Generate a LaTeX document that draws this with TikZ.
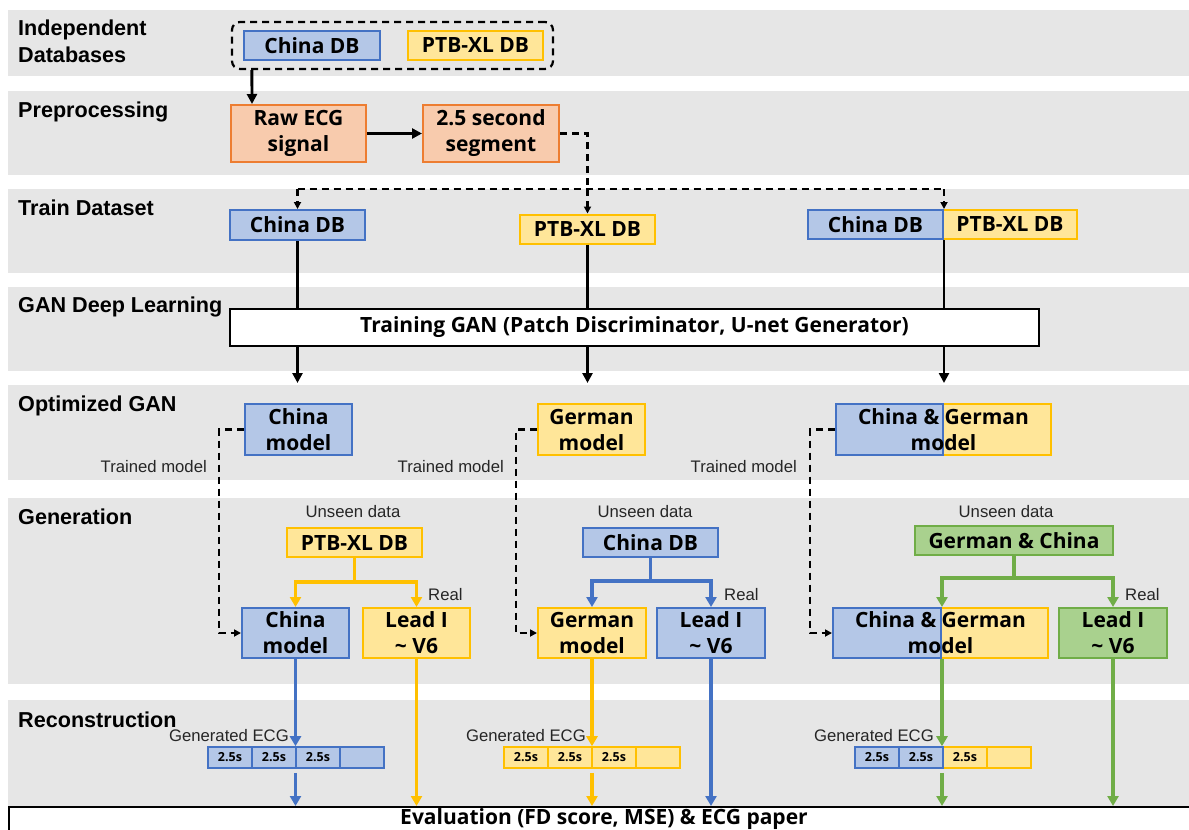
\documentclass[tikz,border=0pt]{standalone}
\usepackage{fontspec}
\setmainfont{Liberation Sans}
\newfontfamily\boxfam{Open Sans}
\usetikzlibrary{arrows.meta}
\definecolor{bandgray}{HTML}{E6E6E6}
\definecolor{bluefill}{HTML}{B4C7E7}
\definecolor{blueline}{HTML}{4472C4}
\definecolor{yelfill}{HTML}{FFE699}
\definecolor{yelline}{HTML}{FFC000}
\definecolor{orfill}{HTML}{F8CBAD}
\definecolor{orline}{HTML}{ED7D31}
\definecolor{grfill}{HTML}{A9D18E}
\definecolor{grline}{HTML}{70AD47}
\definecolor{notegray}{HTML}{262626}

\begin{document}
\begin{tikzpicture}[x=1pt,y=-1pt,
  band/.style={fill=bandgray, draw=none},
  lbl/.style={anchor=base west, inner sep=0, align=left,
    font=\fontsize{21.6}{27}\selectfont\bfseries},
  note/.style={inner sep=0, text=notegray, font=\fontsize{16.7}{20}\selectfont},
  bx/.style={draw, line width=2pt, inner sep=0, align=center, text=black,
    font=\boxfam\fontsize{21}{26}\selectfont\bfseries},
  bluebox/.style={bx, fill=bluefill, draw=blueline},
  yelbox/.style={bx, fill=yelfill, draw=yelline},
  orbox/.style={bx, fill=orfill, draw=orline},
  grbox/.style={bx, fill=grfill, draw=grline},
  cell/.style={draw, line width=1.6pt, inner sep=0, minimum width=44pt, minimum height=21pt,
    font=\boxfam\fontsize{12.5}{14}\selectfont\bfseries},
  blk/.style={line width=2.9pt, draw=black},
  blkarrow/.style={blk, -{Triangle[length=10pt,width=10pt]}},
  dsh/.style={line width=2.2pt, dash pattern=on 7pt off 5pt},
  dsharrow/.style={dsh, -{Triangle[length=7pt,width=7pt]}},
  cline/.style={line width=3.2pt},
  carrow/.style={cline, -{Triangle[length=10pt,width=11pt]}},
]
\useasboundingbox (0,0) rectangle (1189,830);

% stage bands
\fill[bandgray] (8,10) rectangle (1189,76);
\fill[bandgray] (8,91) rectangle (1189,175);
\fill[bandgray] (8,189) rectangle (1189,273);
\fill[bandgray] (8,287) rectangle (1189,371);
\fill[bandgray] (8,385) rectangle (1189,480);
\fill[bandgray] (8,498) rectangle (1189,684);
\fill[bandgray] (8,700) rectangle (1189,806);

% stage labels
\node[lbl, anchor=north west] (l1) at (18,20) {Independent\\Databases};
\node[lbl] (l2) at (18,117) {Preprocessing};
\node[lbl] (l3) at (18,215) {Train Dataset};
\node[lbl] (l4) at (18,312) {GAN Deep Learning};
\node[lbl] (l5) at (18,411) {Optimized GAN};
\node[lbl] (l6) at (18,524) {Generation};
\node[lbl] (l7) at (18,727) {Reconstruction};

% independent databases
\node[draw, dsh, rounded corners=8pt, minimum width=321pt, minimum height=47pt] (db) at (392.5,45.5) {};
\node[bluebox, minimum width=136pt, minimum height=29pt] (cdb1) at (312,45.5) {China DB};
\node[yelbox, minimum width=135pt, minimum height=29pt] (pdb1) at (475.5,45.5) {PTB-XL DB};

% preprocessing
\node[orbox, minimum width=135pt, minimum height=57pt] (raw) at (298.5,133.5) {Raw ECG\\signal};
\node[orbox, minimum width=136pt, minimum height=57pt] (seg) at (491,133.5) {2.5 second\\segment};

% train datasets
\node[bluebox, minimum width=135pt, minimum height=30pt] (tcdb) at (297.5,225) {China DB};
\node[yelbox, minimum width=135pt, minimum height=29pt] (tpdb) at (587.5,229) {PTB-XL DB};
\node[yelbox, minimum width=134pt, minimum height=29pt] (tcp) at (1010,224.5) {PTB-XL DB};
\node[bluebox, minimum width=135pt, minimum height=29pt] (tcc) at (875.5,224.5) {China DB};

% GAN training
\node[bx, draw=black, fill=white, minimum width=809pt, minimum height=37pt] (gan) at (634.5,327.5)
  {Training GAN (Patch Discriminator, U-net Generator)};

% optimized models
\node[bluebox, minimum width=107pt, minimum height=51pt] (ocm) at (298.5,429.5) {China\\model};
\node[yelbox, minimum width=107pt, minimum height=51pt] (ogm) at (591.5,429.5) {German\\model};
\node[yelbox, minimum width=108pt, minimum height=51pt] (ocy) at (997,429.5) {};
\node[bluebox, minimum width=107pt, minimum height=51pt] (ocb) at (889.5,429.5) {};
\node[bx, draw=none, minimum width=215pt, minimum height=51pt] (oct) at (943.5,429.5) {China \& German\\model};

\node[note, anchor=base east] (tm1) at (207,472) {Trained model};
\node[note, anchor=base east] (tm2) at (504,472) {Trained model};
\node[note, anchor=base east] (tm3) at (797,472) {Trained model};

% generation inputs
\node[note, anchor=base] (ud1) at (353,517) {Unseen data};
\node[note, anchor=base] (ud2) at (645,517) {Unseen data};
\node[note, anchor=base] (ud3) at (1006,517) {Unseen data};
\node[yelbox, minimum width=135pt, minimum height=29pt] (upd) at (354.5,542.5) {PTB-XL DB};
\node[bluebox, minimum width=135pt, minimum height=29pt] (ucd) at (650.5,542.5) {China DB};
\node[grbox, minimum width=198pt, minimum height=29pt] (ugc) at (1014,540.5) {German \& China};

% generation models and real leads
\node[bluebox, minimum width=107pt, minimum height=50pt] (gcm) at (295.5,633) {China\\model};
\node[yelbox, minimum width=107pt, minimum height=50pt] (gl1) at (416.5,633) {Lead I\\\textasciitilde{} V6};
\node[yelbox, minimum width=108pt, minimum height=50pt] (ggm) at (592,633) {German\\model};
\node[bluebox, minimum width=108pt, minimum height=50pt] (gl2) at (711,633) {Lead I\\\textasciitilde{} V6};
\node[yelbox, minimum width=107pt, minimum height=50pt] (gcy) at (994.5,633) {};
\node[bluebox, minimum width=108pt, minimum height=50pt] (gcb) at (887,633) {};
\node[bx, draw=none, minimum width=215pt, minimum height=50pt] (gct) at (940.5,633) {China \& German\\model};
\node[grbox, minimum width=108pt, minimum height=50pt] (gl3) at (1113,633) {Lead I\\\textasciitilde{} V6};

\node[note, anchor=base west] (r1) at (428,600) {Real};
\node[note, anchor=base west] (r2) at (724,600) {Real};
\node[note, anchor=base west] (r3) at (1125,600) {Real};

% reconstructed segments
\foreach \i/\t in {0/2.5s,1/2.5s,2/2.5s,3/{}}
  \node[cell, fill=bluefill, draw=blueline] (sa\i) at (230+44*\i,757.5) {\t};
\foreach \i/\t in {0/2.5s,1/2.5s,2/2.5s,3/{}}
  \node[cell, fill=yelfill, draw=yelline] (sb\i) at (526+44*\i,757.5) {\t};
\foreach \i/\t in {2/2.5s,3/{}}
  \node[cell, fill=yelfill, draw=yelline] (sc\i) at (877+44*\i,757.5) {\t};
\foreach \i/\t in {0/2.5s,1/2.5s}
  \node[cell, fill=bluefill, draw=blueline] (sc\i) at (877+44*\i,757.5) {\t};

\node[note, anchor=base east] (ge1) at (289,741) {Generated ECG};
\node[note, anchor=base east] (ge2) at (586,741) {Generated ECG};
\node[note, anchor=base east] (ge3) at (934,741) {Generated ECG};

% evaluation (the box runs on past the lower and right edges)
\node[bx, draw=black, fill=white, line width=2.2pt, anchor=north west, minimum width=1192pt, minimum height=40pt] (eval) at (8,806) {};
\node[bx, draw=none, anchor=base] (evaltxt) at (604,824.5) {Evaluation (FD score, MSE) \& ECG paper};

% --- connectors ---
\draw[blkarrow] ([xshift=21pt]db.south west) -- ([xshift=22pt]raw.north west);
\draw[blkarrow] (raw.east) -- (seg.west);

\coordinate (jmid) at (587.5,189);
\draw[dsh] (seg.east) -| (jmid);
\draw[dsh] (tcdb.north |- jmid) -- (tcc.north east |- jmid);
\draw[dsharrow] (tcdb.north |- jmid) -- (tcdb.north);
\draw[dsharrow] (jmid) -- (tpdb.north);
\draw[dsharrow] (tcc.north east |- jmid) -- (tcc.north east);

\draw[blk] (tcdb.south) -- (tcdb.south |- gan.north);
\draw[blk] (tpdb.south) -- (tpdb.south |- gan.north);
\draw[blk] (tcc.south east) -- (tcc.south east |- gan.north);
\draw[blkarrow] (tcdb.south |- gan.south) -- ([yshift=20pt]tcdb.south |- ocm.north);
\draw[blkarrow] (tpdb.south |- gan.south) -- ([yshift=20pt]tpdb.south |- ogm.north);
\draw[blkarrow] (tcc.south east |- gan.south) -- ([yshift=20pt]tcc.south east |- ocb.north);

\draw[dsharrow] (ocm.west) -- ++(-25,0) |- (gcm.west);
\draw[dsharrow] (ogm.west) -- ++(-21,0) |- (ggm.west);
\draw[dsharrow] (ocb.west) -- ++(-25,0) |- (gcb.west);

\coordinate (bra) at (354.5,582);
\coordinate (brb) at (650.5,581);
\coordinate (brc) at (1014,578);
\draw[cline, yelline] (upd.south) -- (bra);
\draw[carrow, yelline] (bra) -| (gcm.north);
\draw[carrow, yelline] (bra) -| (gl1.north);
\draw[cline, blueline] (ucd.south) -- (brb);
\draw[carrow, blueline] (brb) -| (ggm.north);
\draw[carrow, blueline] (brb) -| (gl2.north);
\draw[cline, grline] (ugc.south) -- (brc);
\draw[carrow, grline] (brc) -| (gcb.north east);
\draw[carrow, grline] (brc) -| (gl3.north);

\draw[carrow, blueline] (gcm.south) -- (gcm.south |- sa1.north);
\draw[carrow, blueline] ([yshift=-4pt]gcm.south |- sa1.south) -- (gcm.south |- eval.north);
\draw[carrow, yelline] (gl1.south) -- (gl1.south |- eval.north);
\draw[carrow, yelline] (ggm.south) -- (ggm.south |- sb1.north);
\draw[carrow, yelline] ([yshift=-4pt]ggm.south |- sb1.south) -- (ggm.south |- eval.north);
\draw[carrow, blueline] (gl2.south) -- (gl2.south |- eval.north);
\draw[carrow, grline] (gcb.south east) -- (gcb.south east |- sc1.north);
\draw[carrow, grline] ([yshift=-4pt]gcb.south east |- sc1.south) -- (gcb.south east |- eval.north);
\draw[carrow, grline] (gl3.south) -- (gl3.south |- eval.north);
\end{tikzpicture}
\end{document}
